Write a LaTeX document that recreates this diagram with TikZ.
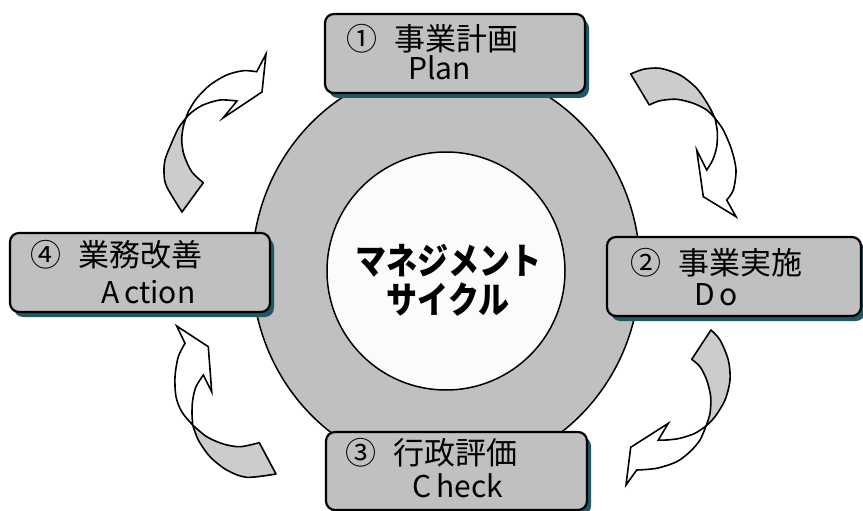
\documentclass[tikz,border=0pt]{standalone}
\usepackage{fontspec}
\setmainfont{Noto Sans CJK JP}
\usetikzlibrary{shadows}
\definecolor{ringgray}{HTML}{C0C0C0}
\definecolor{arrowgray}{HTML}{CCCCCC}
\definecolor{boxshadow}{RGB}{32,88,102}
\definecolor{innerwhite}{HTML}{FBFBFB}
\begin{document}
\begin{tikzpicture}[x=1pt,y=-1pt,
  stagebox/.style={draw=black, line width=2.2pt, fill=ringgray, rounded corners=9pt,
    minimum height=79pt, inner sep=0pt,
    drop shadow={shadow xshift=4pt, shadow yshift=-5pt, fill=boxshadow, opacity=1}},
  jline/.style={anchor=base west, inner sep=0pt, font=\fontsize{31pt}{34pt}\selectfont},
  lline/.style={anchor=base west, inner sep=0pt, font=\fontsize{30pt}{32pt}\selectfont},
  cline/.style={anchor=base, inner sep=0pt, font=\fontsize{31pt}{36pt}\selectfont\bfseries},
  arrowback/.style={draw=black, line width=1.6pt, fill=arrowgray, line join=round},
  arrowfront/.style={draw=black, line width=1.6pt, fill=white, line join=miter},
  ring/.style={draw=black, line width=1.5pt}]
\useasboundingbox (0,0) rectangle (863,511);
\fill[white] (0,0) rectangle (863,511);

% ring
\draw[ring, fill=ringgray] (446,269) ellipse [x radius=194, y radius=203];
\draw[ring, fill=innerwhite] (446,271) circle [radius=119];

% center text
\node[cline] (c1) at (448.5,274) {\scalebox{1}[1.18]{マネジメント}};
\node[cline] (c2) at (448,313) {\scalebox{1}[1.18]{サイクル}};

% boxes
\node[stagebox, minimum width=260pt] (plan) at (455,53.5) {};
\node[stagebox, minimum width=254pt] (do) at (734,276.5) {};
\node[stagebox, minimum width=260pt] (act) at (140,272.5) {};
\node[stagebox, minimum width=261pt, minimum height=78pt] (check) at (456.5,471) {};

% box texts
\node[jline] (planA) at (346,51) {①\hspace{0.55em}事業計画};
\node[lline] (planB) at (408,80) {Plan};
\node[jline] (doA) at (630,274) {②\hspace{0.55em}事業実施};
\node[lline] (doB) at (694,305) {D\kern5pt o};
\node[jline] (actA) at (30,266) {④\hspace{0.55em}業務改善};
\node[lline] (actB) at (101,303) {A\kern5pt ction};
\node[jline] (checkA) at (345,464) {③\hspace{0.55em}行政評価};
\node[lline] (checkB) at (412,497) {C\kern5pt heck};

% top-left arrow
\draw[arrowback] plot[smooth] coordinates {(186,118) (183.3,126.7) (181.7,140) (184,155) (191.7,171.7) (203.3,182.7)}
  -- (182,212)
  -- plot[smooth] coordinates {(182,212) (166.7,186.7) (164,173.3) (165,160) (170,146.7) (178.3,128.3) (186,118)} -- cycle;
\draw[arrowfront] plot[smooth] coordinates {(186,118) (188.3,111.7) (196.7,98.3) (210,85) (226.7,75) (243.3,70.7) (256.7,71.7)}
  -- (266,54) -- (262,92) -- (223,118) -- (237,101)
  -- plot[smooth] coordinates {(237,101) (220,100) (203,105) (192,112) (186,118)} -- cycle;

% top-right arrow
\draw[arrowback] plot[smooth] coordinates {(630.7,74) (643.3,69.3) (660,68.3) (680,75) (696.7,88.3) (708.3,105) (715,118.3)}
  -- plot[smooth] coordinates {(715,118.3) (706.7,110) (693.3,103.3) (676.7,99.3) (660,100.7) (649.3,105)} -- cycle;
\draw[arrowfront] plot[smooth] coordinates {(715,118.3) (717.3,131.7) (716.7,146.7) (712.7,160) (706.7,170)}
  -- (696.7,150) -- (703.3,196.7) -- (736,216.7) -- (726.7,200)
  -- plot[smooth] coordinates {(726.7,200) (733.3,190) (736,170) (731.7,150) (723.3,130) (715,118.3)} -- cycle;

% bottom-right arrow
\draw[arrowback] plot[smooth] coordinates {(711,330) (720,340) (728.3,360) (730,380) (725,400) (715,416.7) (706,426)}
  -- plot[smooth] coordinates {(706,426) (710,413.3) (710.7,396.7) (706.7,380) (700,366.7) (691.7,359.3)} -- cycle;
\draw[arrowfront] plot[smooth] coordinates {(706,426) (695,433.3) (680,438.3) (666.7,440) (658.3,440)}
  -- (668.3,423.3) -- (630.7,447.3) -- (626,485) -- (636.7,470)
  -- plot[smooth] coordinates {(636.7,470) (656.7,468.3) (676.7,461.7) (690,451.7) (700,440) (706,426)} -- cycle;

% bottom-left arrow
\draw[arrowback] plot[smooth] coordinates {(192.7,425) (206.7,436.7) (223.3,444) (240,446.7) (259.3,442.7)}
  -- (276,474)
  -- plot[smooth] coordinates {(276,474) (246.7,477.3) (226.7,470) (210,456.7) (198.3,440) (192.7,425)} -- cycle;
\draw[arrowfront] plot[smooth] coordinates {(192.7,425) (181.7,411.7) (176,396.7) (175,376.7) (178.3,356.7) (185,343.3)}
  -- (176.7,326) -- (208.3,346.7) -- (211.7,391.7) -- (203.3,375)
  -- plot[smooth] coordinates {(203.3,375) (196,386.7) (192.7,400) (192,413.3) (192.7,425)} -- cycle;
\end{tikzpicture}
\end{document}
